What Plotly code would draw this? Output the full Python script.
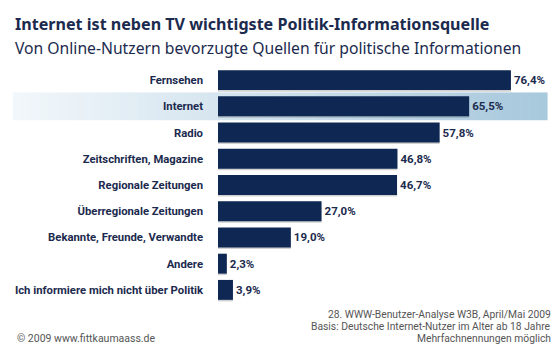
import plotly.graph_objects as go

categories = ["Fernsehen", "Internet", "Radio", "Zeitschriften, Magazine",
              "Regionale Zeitungen", "Überregionale Zeitungen",
              "Bekannte, Freunde, Verwandte", "Andere",
              "Ich informiere mich nicht über Politik"]
values = [76.4, 65.5, 57.8, 46.8, 46.7, 27.0, 19.0, 2.3, 3.9]
value_labels = ["76,4%", "65,5%", "57,8%", "46,8%", "46,7%", "27,0%", "19,0%", "2,3%", "3,9%"]
highlight = "Internet"

title = "Internet ist neben TV wichtigste Politik-Informationsquelle"
subtitle = "Von Online-Nutzern bevorzugte Quellen für politische Informationen"
source_lines = ["28. WWW-Benutzer-Analyse W3B, April/Mai 2009",
                "Basis: Deutsche Internet-Nutzer im Alter ab 18 Jahre",
                "Mehrfachnennungen möglich"]
copyright_text = "© 2009 www.fittkaumaass.de"

NAVY = "#0f2853"
TEXT = "#1b2a4e"
FONT = "Roboto"
HEAD_FONT = "Noto Sans"

W, H = 560, 350
T, B = 67, 47
PH = H - T - B


def py(p):
    return (H - B - p) / PH


fig = go.Figure()

# shadow bars
fig.add_trace(go.Bar(
    x=values, y=categories, orientation="h", width=0.8,
    marker=dict(color="rgba(0,0,0,0.18)", line=dict(width=0)),
    hoverinfo="skip", showlegend=False, offset=-0.36,
))
fig.add_trace(go.Bar(
    x=values, y=categories, orientation="h", width=0.76,
    marker=dict(color=NAVY, line=dict(width=0)),
    text=value_labels, textposition="outside", cliponaxis=False,
    textfont=dict(family=FONT, size=11.5, color=TEXT, weight="bold"),
    showlegend=False, offset=-0.38,
))

# gradient highlight band (built from thin strips)
idx = categories.index(highlight)
n = 60
x0p, x1p = 13 / W, 547 / W
c0 = (242, 247, 251)
c1 = (168, 200, 220)
shapes = []
for i in range(n):
    t = i / (n - 1)
    col = tuple(int(round(c0[k] + (c1[k] - c0[k]) * t)) for k in range(3))
    shapes.append(dict(
        type="rect", xref="paper", yref="y", layer="below",
        x0=x0p + (x1p - x0p) * i / n, x1=x0p + (x1p - x0p) * (i + 1) / n + 0.001,
        y0=idx - 0.53, y1=idx + 0.53,
        fillcolor="rgb(%d,%d,%d)" % col, line=dict(width=0),
    ))

annotations = [
    dict(text="<b>" + title + "</b>", x=13 / W, y=py(24.5), xref="paper", yref="paper",
         xanchor="left", yanchor="middle", showarrow=False,
         font=dict(family=HEAD_FONT, size=16.1, color=TEXT)),
    dict(text=subtitle, x=13 / W, y=py(47.5), xref="paper", yref="paper",
         xanchor="left", yanchor="middle", showarrow=False,
         font=dict(family=HEAD_FONT, size=15.7, color=TEXT)),
    dict(text=copyright_text, x=15 / W, y=py(338), xref="paper", yref="paper",
         xanchor="left", yanchor="middle", showarrow=False,
         font=dict(family=FONT, size=10.5, color="#555555")),
]
for i, line in enumerate(source_lines):
    annotations.append(dict(
        text=line, x=553 / W, y=py(314.5 + 12.2 * i), xref="paper", yref="paper",
        xanchor="right", yanchor="middle", showarrow=False,
        font=dict(family=FONT, size=10.3, color="#555555")))

fig.update_layout(
    width=W, height=H,
    margin=dict(l=0, r=0, t=T, b=B, autoexpand=False),
    paper_bgcolor="white", plot_bgcolor="rgba(0,0,0,0)",
    barmode="overlay",
    xaxis=dict(domain=[218 / W, 1], range=[0, 89.2], visible=False, fixedrange=True,
               automargin=False),
    yaxis=dict(autorange="reversed", showgrid=False, zeroline=False, showline=False,
               ticks="", ticklabelstandoff=14, automargin=False,
               tickfont=dict(family=FONT, size=11.3, color=TEXT, weight="bold")),
    shapes=shapes,
    annotations=annotations,
    font=dict(family=FONT),
)

fig.write_html("out.html")
